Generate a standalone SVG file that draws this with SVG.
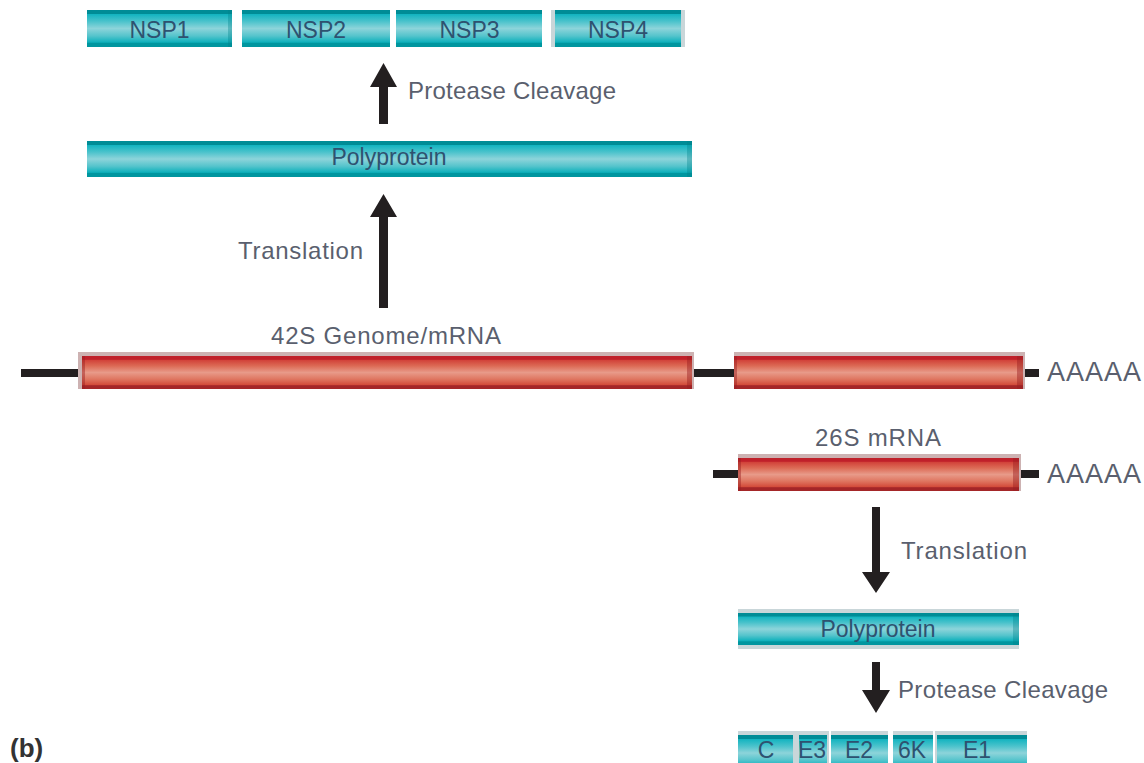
<svg xmlns="http://www.w3.org/2000/svg" width="1144" height="763" viewBox="0 0 1144 763">
<defs>
<linearGradient id="teal" x1="0" y1="0" x2="0" y2="1">
<stop offset="0" stop-color="#008c96"/>
<stop offset="0.1" stop-color="#008c96"/>
<stop offset="0.12" stop-color="#14b4c0"/>
<stop offset="0.3" stop-color="#48c2cb"/>
<stop offset="0.5" stop-color="#8dd4da"/>
<stop offset="0.7" stop-color="#55c4cc"/>
<stop offset="0.87" stop-color="#0fb1bc"/>
<stop offset="0.9" stop-color="#00969f"/>
<stop offset="1" stop-color="#00969f"/>
</linearGradient>
<linearGradient id="red" x1="0" y1="0" x2="0" y2="1">
<stop offset="0" stop-color="#c0202a"/>
<stop offset="0.1" stop-color="#c0202a"/>
<stop offset="0.13" stop-color="#d2433a"/>
<stop offset="0.3" stop-color="#dc6a55"/>
<stop offset="0.5" stop-color="#e89a89"/>
<stop offset="0.7" stop-color="#df7661"/>
<stop offset="0.87" stop-color="#d34c3b"/>
<stop offset="0.9" stop-color="#a42628"/>
<stop offset="1" stop-color="#a42628"/>
</linearGradient>
<style>
.tb{fill:url(#teal)}
.rb{fill:url(#red)}
.rs{fill:#cdb2b2}
.ts{fill:#c9d6d9}
.re{fill:#9a1e22;opacity:0.45}
.te{fill:#00808a;opacity:0.35}
.ln{stroke:#231f20;stroke-width:8;fill:none}
.ar{fill:#231f20}
.lab{font-family:"Liberation Sans",Arial,sans-serif;font-size:24px;fill:#5a5f6e}
.big{font-size:27px}
.bx{font-family:"Liberation Sans",Arial,sans-serif;font-size:23px;fill:#2e5270;text-anchor:middle}
.bold{font-family:"Liberation Sans",Arial,sans-serif;font-size:26px;font-weight:bold;fill:#333}
</style>
</defs>

<g id="connectors">
<line class="ln" x1="21" y1="373" x2="1039" y2="373"/>
<line class="ln" x1="713" y1="474" x2="1039" y2="474"/>
<polygon class="ar" points="379,124 388,124 388,87 397,87 383.5,63 370,87 379,87"/>
<polygon class="ar" points="379,308 388,308 388,217 397,217 383.5,194 370,217 379,217"/>
<polygon class="ar" points="872,507 880,507 880,572 890,572 876,593 862,572 872,572"/>
<polygon class="ar" points="872,662 880,662 880,690 890,690 876,713 862,690 872,690"/>
</g>

<g id="nsp1"><rect class="tb" x="87" y="10" width="145" height="37"/><rect class="te" x="228" y="10" width="4" height="37"/><text class="bx" x="159.5" y="38">NSP1</text></g>
<g id="nsp2"><rect class="tb" x="242" y="10" width="148" height="37"/><text class="bx" x="316" y="38">NSP2</text></g>
<g id="nsp3"><rect class="tb" x="396" y="10" width="146" height="37"/><text class="bx" x="469.5" y="38">NSP3</text></g>
<g id="nsp4"><rect class="ts" x="551" y="10" width="134" height="37"/><rect class="tb" x="555" y="10" width="126" height="37"/><text class="bx" x="618" y="38">NSP4</text></g>

<g id="label-protease-top"><text class="lab" x="408" y="99" textLength="208">Protease Cleavage</text></g>

<g id="polyprotein-top"><rect class="tb" x="87" y="141" width="605" height="36"/><rect class="te" x="687" y="141" width="5" height="36"/><text class="bx" x="389" y="165" font-size="24">Polyprotein</text></g>

<g id="label-translation-top"><text class="lab" x="238" y="259" textLength="125">Translation</text></g>

<g id="label-42s"><text class="lab" x="271" y="344" textLength="230">42S Genome/mRNA</text></g>

<g id="genome-bar1"><rect class="rs" x="78" y="352" width="616" height="37"/><rect class="rb" x="82" y="356" width="610" height="33"/><rect class="re" x="82" y="356" width="3" height="33"/><rect class="re" x="687" y="356" width="5" height="33"/></g>
<g id="genome-bar2"><rect class="rs" x="734" y="352" width="291" height="37"/><rect class="rb" x="734" y="356" width="289" height="33"/><rect class="re" x="734" y="356" width="3" height="33"/><rect class="re" x="1017" y="356" width="6" height="33"/></g>
<g id="polyA1"><text class="lab big" x="1047" y="381" textLength="94">AAAAA</text></g>

<g id="label-26s"><text class="lab" x="815" y="446" textLength="126">26S mRNA</text></g>
<g id="mrna26-bar"><rect class="rs" x="738" y="454" width="283" height="37"/><rect class="rb" x="738" y="458" width="281" height="33"/><rect class="re" x="738" y="458" width="3" height="33"/><rect class="re" x="1013" y="458" width="6" height="33"/></g>
<g id="polyA2"><text class="lab big" x="1047" y="483" textLength="94">AAAAA</text></g>

<g id="label-translation-bottom"><text class="lab" x="901" y="559" textLength="126">Translation</text></g>

<g id="polyprotein-bottom"><rect class="ts" x="738" y="609" width="281" height="40"/><rect class="tb" x="738" y="613" width="281" height="32"/><rect class="te" x="1013" y="613" width="6" height="32"/><text class="bx" x="878" y="637" font-size="24">Polyprotein</text></g>

<g id="label-protease-bottom"><text class="lab" x="898" y="698" textLength="210">Protease Cleavage</text></g>

<g id="struct-c"><rect class="ts" x="738" y="731" width="59" height="40"/><rect class="tb" x="738" y="735" width="55" height="36"/><text class="bx" x="766" y="758">C</text></g>
<g id="struct-e3"><rect class="ts" x="797" y="731" width="32" height="40"/><rect class="tb" x="799" y="735" width="28" height="36"/><text class="bx" x="812" y="758">E3</text></g>
<g id="struct-e2"><rect class="ts" x="831" y="731" width="57" height="40"/><rect class="tb" x="831" y="735" width="57" height="36"/><text class="bx" x="859" y="758">E2</text></g>
<g id="struct-6k"><rect class="ts" x="893" y="731" width="40" height="40"/><rect class="tb" x="893" y="735" width="40" height="36"/><text class="bx" x="912" y="758">6K</text></g>
<g id="struct-e1"><rect class="ts" x="935" y="731" width="92" height="40"/><rect class="tb" x="937" y="735" width="90" height="36"/><text class="bx" x="977" y="758">E1</text></g>

<g id="panel-label"><text class="bold" x="10" y="757">(b)</text></g>
</svg>
